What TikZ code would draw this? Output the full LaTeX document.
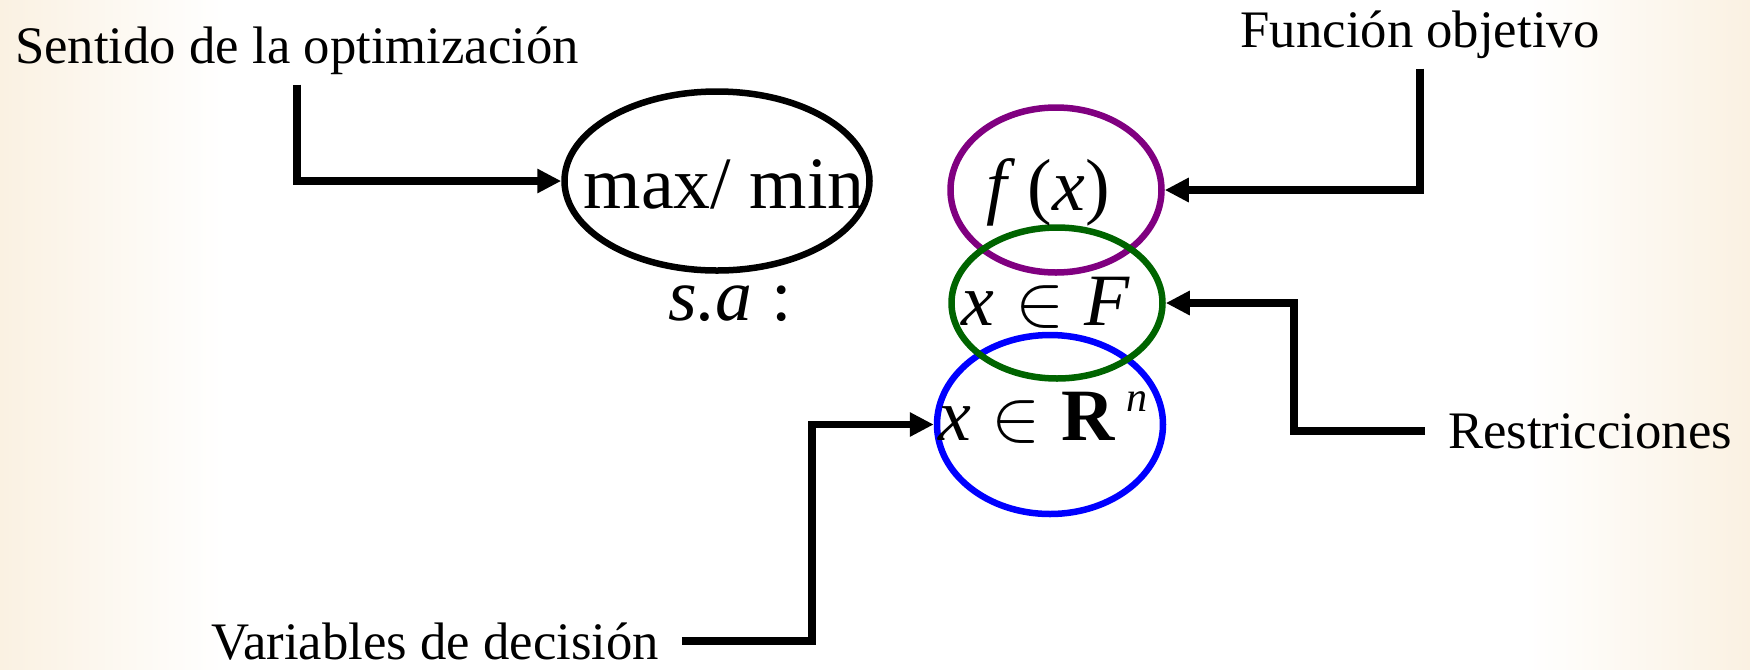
\documentclass[tikz,border=0pt]{standalone}
\usepackage{fix-cm}
\usepackage{fontspec}
\setmainfont{Liberation Serif}[ItalicFont={Liberation Serif Italic}, BoldFont={Liberation Serif Bold}]
\usetikzlibrary{arrows.meta, shapes.geometric}
\definecolor{optP}{RGB}{128,0,128}
\definecolor{optG}{RGB}{0,100,0}
\definecolor{optB}{RGB}{0,0,255}
\definecolor{paper}{RGB}{250,241,226}
\tikzset{tag/.style={font=\fontsize{30}{36}\selectfont, inner xsep=0.45cm, inner ysep=0.2cm, anchor=base},
  oval/.style={draw, ellipse, line width=3.7pt, inner sep=0pt},
  big/.style={font=\fontsize{42}{50}\selectfont, inner sep=0pt, anchor=base},
  pointer/.style={-{Triangle[length=0.48cm, width=0.46cm]}, line width=4.5pt}}

\begin{document}
\begin{tikzpicture}
% tinted paper at both edges
\shade[left color=paper, right color=white] (0,0) rectangle (4.5,-13.38);
\shade[left color=white, right color=paper] (30.5,0) rectangle (35,-13.38);
\useasboundingbox (0,0) rectangle (35,-13.38);
% the ovals of the model
\node[oval, minimum width=6.1cm, minimum height=3.58cm] (mxmn) at (14.34,-3.62) {};
\node[oval, optP, minimum width=4.22cm, minimum height=3.3cm] (fx) at (21.12,-3.80) {};
\node[oval, optB, minimum width=4.52cm, minimum height=3.58cm] (xR) at (21.0,-8.49) {};
\node[oval, optG, minimum width=4.22cm, minimum height=3.02cm] (xF) at (21.14,-6.06) {};
% what is written in them
\node[big] (tmx) at (14.48,-4.16) {max/ min};
\node[big] (tfx) at (20.96,-4.20) {\textit{f}\,(\textit{x})};
\node[big] (txF) at (20.92,-6.50) {$\textit{x} \in \textit{F}$};
\node[big] (txR) at (20.86,-8.80) {$\textit{x} \in \textbf{R}$\,\raisebox{16pt}{\fontsize{24}{28}\selectfont\textit{n}}};
\node[big] (sa) at (14.6,-6.40) {\textit{s.a} :};
% labels round it
\node[tag] (sentido) at (5.94,-1.26) {Sentido de la optimización};
\node[tag] (funcion) at (28.4,-0.94) {Función objetivo};
\node[tag] (restr) at (31.8,-8.96) {Restricciones};
\node[tag] (vars) at (8.7,-13.18) {Variables de decisión};
% pointers from the labels
\draw[pointer] (sentido.south) |- (mxmn.west);
\draw[pointer] (funcion.south) |- (fx.east);
\draw[pointer] (restr.west) -- ++(-2.62,0) |- (xF.east);
\draw[pointer] (vars.east) -- ++(2.6,0) |- (xR.west);
\end{tikzpicture}
\end{document}
